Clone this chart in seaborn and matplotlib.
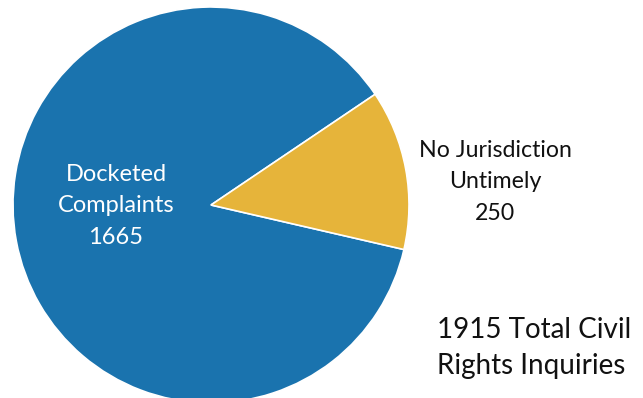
import matplotlib
matplotlib.use("Agg")
import matplotlib.pyplot as plt
import seaborn as sns

# inquiry counts
categories = ["Docketed\nComplaints", "No Jurisdiction\nUntimely"]
counts = [1665, 250]
colors = ["#1a73ae", "#e6b43a"]
total_label = "1915 Total Civil\nRights Inquiries"

sns.set_theme(style="white")
plt.rcParams["font.family"] = ["Lato", "DejaVu Sans"]

fig = plt.figure(figsize=(6.43, 3.98), dpi=100)
ax = fig.add_axes([0, 0, 1, 1])

wedges, _ = ax.pie(counts, colors=colors, startangle=34, counterclock=True,
                   center=(211, 193), radius=198,
                   wedgeprops=dict(edgecolor="white", linewidth=1.2))
ax.set_xlim(0, 643)
ax.set_ylim(0, 398)
ax.set_aspect("equal")
ax.axis("off")

ax.text(116, 192, f"{categories[0]}\n{counts[0]}", color="white", fontsize=17,
        ha="center", va="center", linespacing=1.6)
ax.text(495, 216, f"{categories[1]}\n{counts[1]}", color="#111111", fontsize=16.7,
        ha="center", va="center", linespacing=1.6)
ax.text(437, 50, total_label, color="#111111", fontsize=20,
        ha="left", va="center", linespacing=1.5)

fig.savefig("out.png", dpi=100)
